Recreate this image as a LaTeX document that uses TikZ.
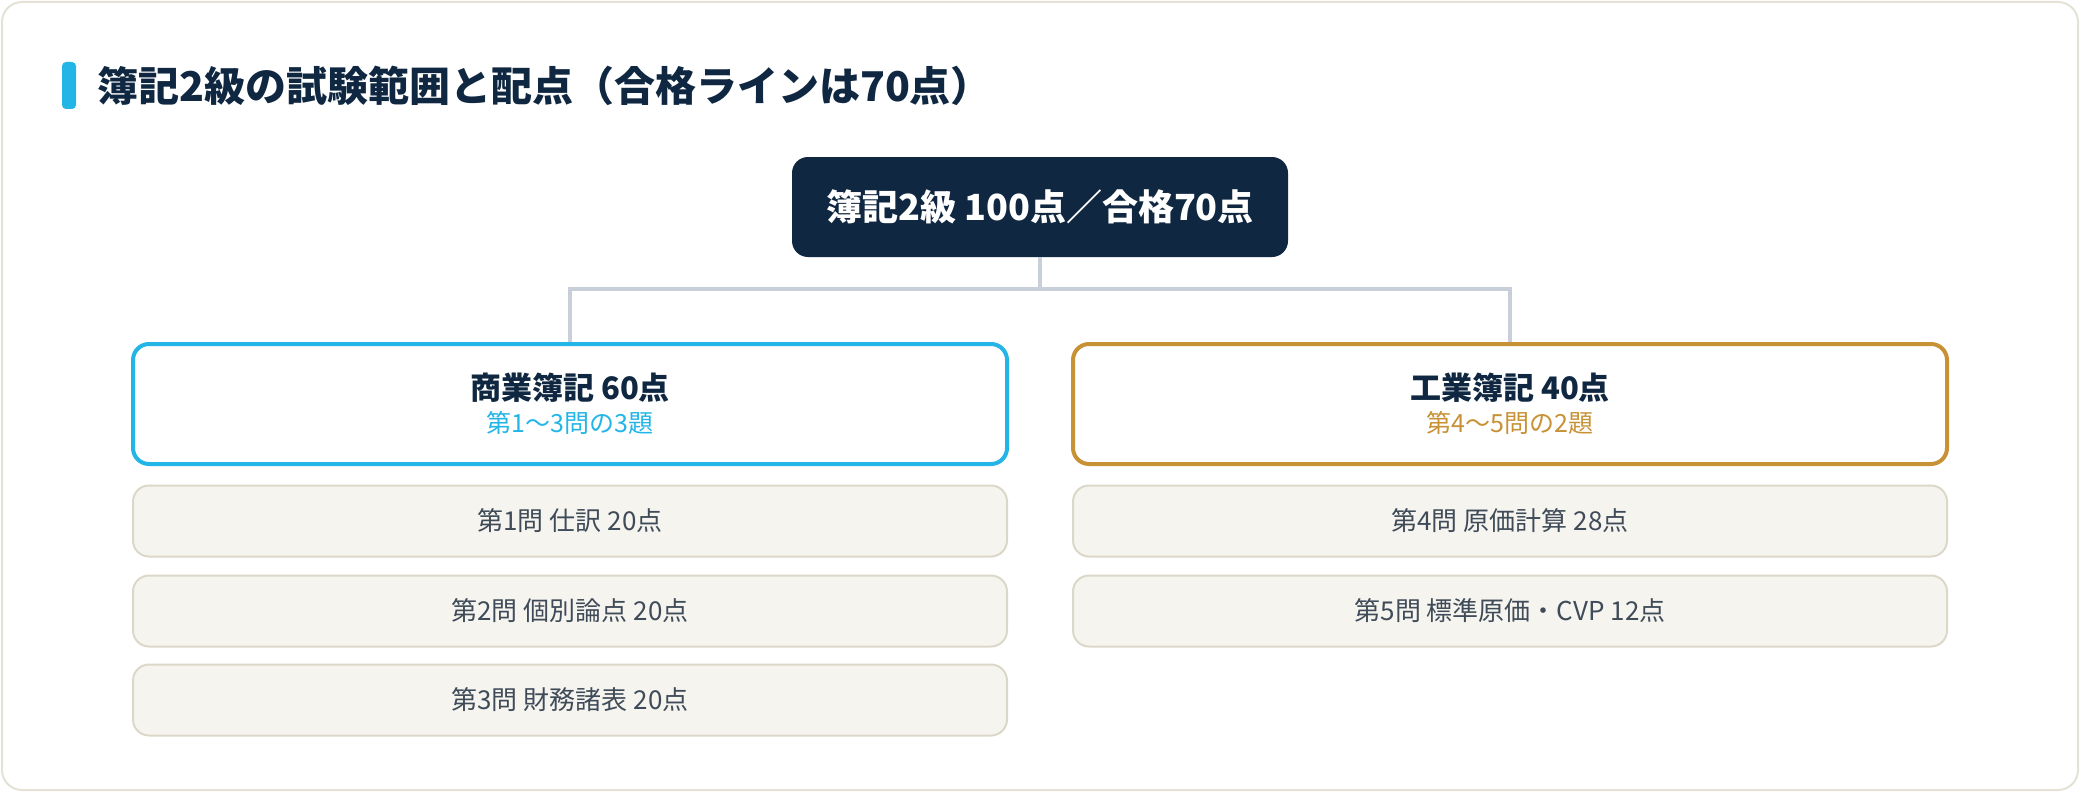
\documentclass[tikz,border=0pt]{standalone}
\usepackage{fontspec}
\setmainfont{Noto Sans CJK JP}
\usepackage{xcolor}
\usepackage{tikz}

\definecolor{navy}{HTML}{0F2740}
\definecolor{sky}{HTML}{22B5E6}
\definecolor{gold}{HTML}{C79235}
\definecolor{itemtext}{HTML}{3F4B58}
\definecolor{itemfill}{HTML}{F6F4EF}
\definecolor{itemline}{HTML}{DCD8C9}
\definecolor{linkgray}{HTML}{C8CFD9}
\definecolor{frame}{HTML}{E4E1D6}

\begin{document}
\begin{tikzpicture}[x=0.5pt, y=-0.5pt,
  top/.style={rectangle, rounded corners=8pt, fill=navy, text=white, font=\bfseries\fontsize{18}{22}\selectfont, minimum width=248pt, minimum height=50pt},
  section/.style={rectangle, rounded corners=8pt, draw, line width=2pt, fill=white, align=center, minimum width=437pt, minimum height=60pt},
  item/.style={rectangle, rounded corners=8pt, draw=itemline, line width=1pt, fill=itemfill, text=itemtext, font=\fontsize{13}{16}\selectfont, minimum width=437pt, minimum height=35.5pt},
  link/.style={draw=linkgray, line width=1.7pt}]
\useasboundingbox (0,0) rectangle (2080,792);
\draw[frame, line width=1pt, rounded corners=10pt] (2,2) rectangle (2078,790);

\fill[sky, rounded corners=2pt] (62,62) rectangle (76,109);
\node[anchor=west, text=navy, font=\bfseries\fontsize{20.5}{24}\selectfont] (title) at (90,86) {簿記2級の試験範囲と配点（合格ラインは70点）};

\node[top] (total) at (1040,207) {簿記2級 100点／合格70点};

\node[section, draw=sky] (shogyo) at (570,404) {{\bfseries\color{navy}\fontsize{15.5}{18}\selectfont 商業簿記 60点}\\[3.5pt]{\color{sky}\fontsize{12.5}{15}\selectfont 第1〜3問の3題}};
\node[section, draw=gold] (kogyo) at (1510,404) {{\bfseries\color{navy}\fontsize{15.5}{18}\selectfont 工業簿記 40点}\\[3.5pt]{\color{gold}\fontsize{12.5}{15}\selectfont 第4〜5問の2題}};

\node[item] (q1) at (570,521) {第1問 仕訳 20点};
\node[item] (q2) at (570,611) {第2問 個別論点 20点};
\node[item] (q3) at (570,700) {第3問 財務諸表 20点};
\node[item] (q4) at (1510,521) {第4問 原価計算 28点};
\node[item] (q5) at (1510,611) {第5問 標準原価・CVP 12点};

\coordinate (bus) at (1040,289);
\draw[link] (total.south) -- (bus);
\draw[link] (bus) -| (shogyo.north);
\draw[link] (bus) -| (kogyo.north);
\end{tikzpicture}
\end{document}
